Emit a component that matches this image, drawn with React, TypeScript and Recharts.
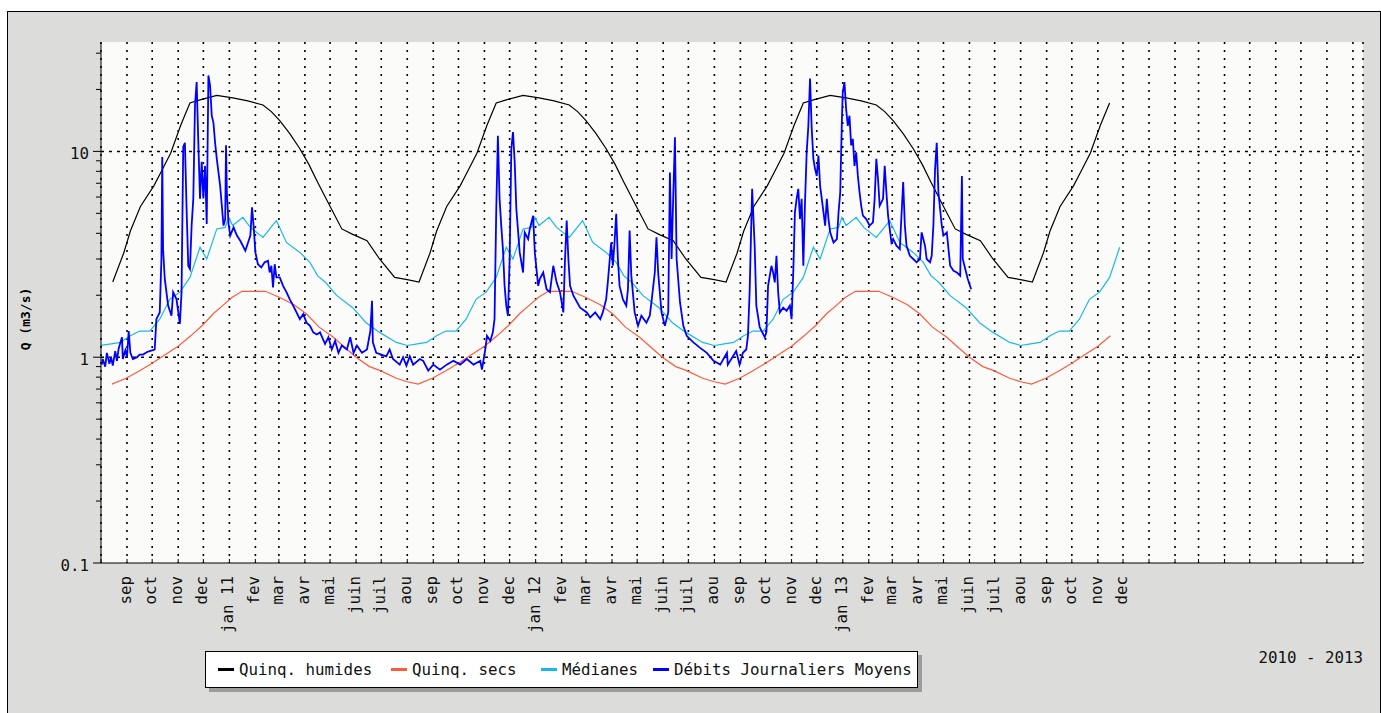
import React from 'react';
import { LineChart, Line, XAxis, YAxis, CartesianGrid, ReferenceLine } from 'recharts';

const FONT = '"DejaVu Sans Mono", monospace';

// x = days since 1 Aug 2010
const MONTH_TICK_DAYS = [0, 31, 61, 92, 122, 153, 184, 212, 243, 273, 304, 334, 365, 396, 426, 457, 487, 518, 549, 578, 609, 639, 670, 700, 731, 762, 792, 823, 853, 884, 915, 943, 974, 1004, 1035, 1065, 1096, 1127, 1157, 1188, 1218, 1249, 1280, 1308, 1339, 1369, 1400, 1430, 1461, 1492];
const MONTH_TICK_LABELS = ['', 'sep', 'oct', 'nov', 'dec', 'jan 11', 'fev', 'mar', 'avr', 'mai', 'juin', 'juil', 'aou', 'sep', 'oct', 'nov', 'dec', 'jan 12', 'fev', 'mar', 'avr', 'mai', 'juin', 'juil', 'aou', 'sep', 'oct', 'nov', 'dec', 'jan 13', 'fev', 'mar', 'avr', 'mai', 'juin', 'juil', 'aou', 'sep', 'oct', 'nov', 'dec', '', '', '', '', '', '', '', '', ''];

const Y_TICKS = [0.1, 0.2, 0.3, 0.4, 0.5, 0.6, 0.7, 0.8, 0.9, 1, 2, 3, 4, 5, 6, 7, 8, 9, 10, 20, 30];
const Y_MAJOR_LABELS: Record<string, string> = { '0.1': '0.1', '1': '1', '10': '10' };

// seasonal statistics, profile per hydrological season (day since 1 Aug)
const SEASON_OFFSETS = [0, 365, 731, 1096];

const HUMIDES_DAYS = [0, 14, 27, 35, 47, 63, 72, 83, 95, 106, 118, 138, 157, 175, 193, 203, 213, 225, 237, 248, 258, 272, 287, 300, 317, 332, 350];
const HUMIDES_VALUES = [2.38, 2.32, 3.2, 4.1, 5.4, 6.8, 8.0, 9.8, 13.4, 17.2, 17.8, 18.7, 18.2, 17.6, 16.8, 15.6, 14.1, 12.2, 10.3, 8.6, 7.1, 5.5, 4.2, 3.95, 3.68, 3.0, 2.44];

const SECS_DAYS = [0, 13, 30, 46, 60, 75, 92, 107, 121, 134, 145, 156, 168, 196, 213, 230, 245, 260, 277, 290, 304, 320, 333, 352];
const SECS_VALUES = [0.76, 0.74, 0.79, 0.86, 0.93, 1.02, 1.13, 1.27, 1.43, 1.63, 1.78, 1.95, 2.09, 2.09, 1.95, 1.8, 1.62, 1.4, 1.25, 1.12, 1.0, 0.9, 0.86, 0.79];

const MEDIANES_DAYS = [0, 12, 23, 35, 46, 58, 70, 82, 94, 106, 118, 126, 138, 148, 152, 157, 169, 178, 193, 209, 221, 237, 249, 258, 268, 281, 300, 316, 332, 352];
const MEDIANES_VALUES = [1.14, 1.16, 1.18, 1.27, 1.34, 1.34, 1.53, 1.91, 2.07, 2.44, 3.42, 3.0, 4.2, 4.27, 4.78, 4.36, 4.78, 4.27, 3.82, 4.61, 3.61, 3.23, 2.89, 2.49, 2.3, 1.99, 1.74, 1.47, 1.32, 1.18];

// daily mean flows (sampled)
const DEBITS_DAYS = [1, 2, 5, 7, 10, 12, 14, 17, 19, 21, 25, 26, 29, 31, 33, 35, 38, 43, 46, 50, 55, 58, 64, 66, 70, 72, 73, 74, 76, 80, 84, 86, 90, 94, 96, 98, 100, 102, 104, 106, 108, 110, 112, 114, 116, 118, 120, 122, 124, 126, 128, 130, 132, 134, 136, 138, 142, 144, 146, 148, 149, 150, 152, 154, 158, 162, 166, 172, 174, 178, 180, 182, 184, 187, 191, 195, 199, 201, 203, 205, 207, 209, 213, 217, 221, 225, 229, 233, 237, 241, 245, 249, 253, 257, 261, 267, 271, 275, 279, 283, 287, 293, 297, 301, 305, 311, 317, 321, 323, 324, 328, 334, 340, 344, 348, 356, 360, 364, 368, 372, 380, 384, 390, 396, 404, 412, 420, 428, 436, 444, 452, 454, 458, 460, 464, 467, 469, 471, 473, 475, 477, 479, 481, 483, 485, 487, 489, 491, 493, 495, 499, 503, 505, 509, 511, 515, 517, 521, 523, 527, 531, 535, 539, 543, 547, 551, 553, 555, 557, 559, 563, 571, 579, 583, 589, 595, 598, 602, 604, 608, 610, 612, 614, 616, 618, 622, 626, 628, 630, 632, 636, 640, 644, 650, 654, 656, 660, 662, 664, 668, 672, 676, 678, 680, 682, 684, 686, 690, 694, 698, 706, 714, 722, 730, 738, 746, 747, 757, 761, 765, 769, 771, 773, 776, 779, 781, 785, 791, 793, 795, 799, 801, 803, 805, 807, 809, 813, 817, 821, 823, 825, 827, 829, 831, 833, 835, 837, 839, 841, 843, 845, 847, 849, 851, 853, 855, 857, 859, 863, 865, 867, 869, 873, 877, 879, 881, 883, 884, 886, 888, 890, 892, 894, 896, 898, 900, 902, 904, 906, 908, 912, 916, 920, 922, 924, 926, 928, 932, 934, 936, 938, 940, 942, 944, 948, 952, 956, 958, 960, 964, 968, 972, 976, 978, 980, 982, 984, 988, 990, 992, 994, 996, 998, 1000, 1002, 1004, 1008, 1012, 1016, 1020, 1024, 1026, 1027, 1029, 1033, 1037];
const DEBITS_VALUES = [0.92, 0.98, 0.9, 1.05, 0.93, 1.0, 0.91, 1.07, 0.96, 1.1, 1.25, 0.98, 1.08, 1.0, 1.34, 1.05, 0.98, 1.0, 1.03, 1.03, 1.06, 1.07, 1.09, 1.53, 1.65, 3.0, 9.4, 3.35, 2.4, 1.78, 1.59, 2.07, 1.91, 1.45, 2.07, 10.5, 11.0, 5.25, 2.78, 2.68, 4.36, 5.88, 16.7, 21.7, 11.0, 5.88, 8.9, 5.9, 8.5, 4.44, 23.4, 20.9, 14.9, 13.8, 11.0, 9.2, 6.8, 5.44, 4.36, 4.69, 10.7, 6.33, 4.44, 3.9, 4.27, 3.9, 3.68, 3.29, 3.48, 3.9, 5.35, 4.27, 3.23, 2.83, 2.73, 2.89, 2.94, 2.58, 2.78, 2.18, 2.83, 2.44, 2.44, 2.22, 2.07, 1.91, 1.78, 1.65, 1.53, 1.62, 1.47, 1.42, 1.32, 1.29, 1.32, 1.16, 1.25, 1.09, 1.2, 1.05, 1.14, 1.09, 1.25, 1.05, 1.14, 1.05, 1.09, 1.34, 1.88, 1.18, 1.05, 1.03, 1.01, 1.09, 0.98, 0.92, 1.0, 0.91, 1.01, 0.92, 0.98, 0.96, 0.86, 0.92, 0.87, 0.92, 0.96, 0.92, 0.98, 0.92, 0.96, 0.87, 1.09, 1.27, 1.2, 1.32, 1.53, 5.06, 11.9, 5.88, 4.36, 3.35, 2.22, 1.78, 1.59, 3.0, 10.3, 12.4, 8.9, 5.25, 3.23, 2.58, 4.04, 3.75, 4.2, 4.87, 3.23, 2.22, 2.4, 2.58, 2.14, 2.07, 2.78, 2.31, 2.07, 1.65, 3.0, 4.61, 3.0, 2.22, 1.99, 1.74, 1.65, 1.56, 1.65, 1.53, 1.65, 1.91, 2.31, 3.61, 2.78, 3.61, 4.97, 3.0, 2.22, 1.91, 1.78, 2.14, 4.12, 2.49, 1.65, 1.42, 1.59, 1.47, 1.59, 1.85, 2.58, 3.82, 2.58, 1.65, 1.42, 1.65, 7.9, 3.0, 6.1, 11.7, 3.0, 1.85, 1.42, 1.27, 1.18, 1.11, 1.05, 0.96, 0.92, 1.05, 0.92, 1.07, 0.92, 1.05, 1.09, 1.27, 2.07, 6.58, 3.48, 1.78, 1.4, 1.25, 1.32, 2.22, 2.78, 2.58, 2.31, 3.11, 2.07, 1.65, 1.74, 1.68, 1.78, 1.53, 2.58, 5.06, 5.88, 6.58, 4.69, 5.88, 2.78, 5.65, 9.9, 13.3, 22.6, 12.9, 9.2, 8.2, 7.6, 9.55, 6.8, 5.88, 4.36, 5.88, 4.69, 4.04, 3.61, 3.75, 5.06, 6.33, 14.4, 19.4, 21.7, 16.1, 13.3, 14.9, 10.7, 11.5, 8.5, 9.9, 7.6, 6.33, 5.44, 4.87, 4.69, 4.36, 4.52, 5.88, 9.2, 7.35, 5.44, 5.88, 8.5, 6.33, 4.87, 4.2, 3.61, 3.75, 3.48, 3.35, 7.1, 4.36, 3.48, 3.11, 3.0, 2.89, 3.0, 4.04, 3.75, 3.48, 3.0, 2.89, 3.11, 4.36, 8.2, 11.0, 6.33, 5.25, 4.36, 3.9, 4.04, 2.78, 2.63, 2.58, 2.49, 7.6, 3.0, 2.78, 2.4, 2.14];

const SERIES_NAMES = ['Quinq. humides', 'Quinq. secs', 'Médianes', 'Débits Journaliers Moyens'];
const SERIES_COLORS = ['#000000', '#ff5a3c', '#1ab8e6', '#0000ff'];
const PERIOD_LABEL = '2010 - 2013';
const Y_LABEL = 'Q (m3/s)';

type Pt = { d: number; v: number };

function buildSeasonal(days: number[], values: number[], start: number, end: number): Pt[] {
  const out: Pt[] = [];
  SEASON_OFFSETS.forEach((off) => {
    days.forEach((d, i) => {
      const t = d + off;
      if (t >= start && t <= end) out.push({ d: t, v: values[i] });
    });
  });
  return out;
}

const humidesData = buildSeasonal(HUMIDES_DAYS, HUMIDES_VALUES, 13, 1205);
const secsData = buildSeasonal(SECS_DAYS, SECS_VALUES, 12, 1205);
const medianesData = buildSeasonal(MEDIANES_DAYS, MEDIANES_VALUES, 0, 1220);
const debitsData: Pt[] = DEBITS_DAYS.map((d, i) => ({ d, v: DEBITS_VALUES[i] }));

const XTick = (props: any) => {
  const { x, y, payload } = props;
  const idx = MONTH_TICK_DAYS.indexOf(payload.value);
  const label = idx >= 0 ? MONTH_TICK_LABELS[idx] : '';
  const ty = y + 13;
  const tx = x + 4;
  return (
    <g>
      <line x1={x} x2={x} y1={y - 4} y2={y} stroke="#000" strokeWidth={1} />
      {label ? (
        <text
          x={tx}
          y={ty}
          transform={`rotate(-90 ${tx} ${ty})`}
          textAnchor="end"
          fontFamily={FONT}
          fontSize={15.8}
          fill="#111"
        >
          {label}
        </text>
      ) : null}
    </g>
  );
};

const YTick = (props: any) => {
  const { x, y, payload } = props;
  const label = Y_MAJOR_LABELS[String(payload.value)];
  const len = label ? 8 : 5;
  return (
    <g>
      <line x1={x - len} x2={x} y1={y} y2={y} stroke="#000" strokeWidth={1} />
      {label ? (
        <text x={x - 12} y={y + 7.5} textAnchor="end" fontFamily={FONT} fontSize={15.8} fill="#111">
          {label}
        </text>
      ) : null}
    </g>
  );
};

const legendOffsets = [12, 185, 335, 447];

export default function App() {
  return (
    <div style={{ position: 'absolute', left: 0, top: 0, width: 1381, height: 713, background: '#ffffff', overflow: 'hidden' }}>
      <div
        style={{
          position: 'absolute',
          left: 7,
          top: 11,
          width: 1374,
          height: 712,
          background: '#dcdddb',
          border: '1px solid #000',
          boxSizing: 'border-box',
        }}
      />
      <div style={{ position: 'absolute', left: 0, top: 0 }}>
        <LineChart width={1381} height={713} margin={{ top: 42, right: 18, bottom: 50, left: 0 }}>
          <CartesianGrid horizontal={false} vertical stroke="#000" strokeWidth={1.6} strokeDasharray="2 6" fill="#fbfcfa" fillOpacity={1} />
          <XAxis
            type="number"
            dataKey="d"
            domain={[0, 1504]}
            ticks={MONTH_TICK_DAYS}
            interval={0}
            tick={<XTick />}
            tickLine={false}
            tickSize={0}
            tickMargin={0}
            height={100}
            axisLine={{ stroke: '#000' }}
            allowDataOverflow
          />
          <YAxis
            type="number"
            dataKey="v"
            scale="log"
            domain={[0.1, 34]}
            ticks={Y_TICKS}
            interval={0}
            tick={<YTick />}
            tickLine={false}
            tickSize={0}
            tickMargin={0}
            width={101}
            axisLine={{ stroke: '#000' }}
            allowDataOverflow
          />
          <ReferenceLine y={10} stroke="#000" strokeWidth={1.5} strokeDasharray="3 5" />
          <ReferenceLine y={1} stroke="#000" strokeWidth={1.5} strokeDasharray="3 5" />
          <Line data={humidesData} dataKey="v" type="linear" stroke={SERIES_COLORS[0]} strokeWidth={1.2} dot={false} isAnimationActive={false} name={SERIES_NAMES[0]} />
          <Line data={secsData} dataKey="v" type="linear" stroke={SERIES_COLORS[1]} strokeWidth={1.2} dot={false} isAnimationActive={false} name={SERIES_NAMES[1]} />
          <Line data={medianesData} dataKey="v" type="linear" stroke={SERIES_COLORS[2]} strokeWidth={1.2} dot={false} isAnimationActive={false} name={SERIES_NAMES[2]} />
          <Line data={debitsData} dataKey="v" type="linear" stroke={SERIES_COLORS[3]} strokeWidth={1.8} dot={false} isAnimationActive={false} name={SERIES_NAMES[3]} />
        </LineChart>
      </div>
      <div
        style={{
          position: 'absolute',
          left: 25,
          top: 319,
          transform: 'translate(-50%, -50%) rotate(-90deg)',
          fontFamily: FONT,
          fontWeight: 'bold',
          fontSize: 13,
          color: '#000',
          whiteSpace: 'nowrap',
          transformOrigin: 'center',
        }}
      >
        <span style={{ position: 'relative', left: 0 }}>{Y_LABEL}</span>
      </div>
      <div
        style={{
          position: 'absolute',
          left: 205,
          top: 651,
          width: 713,
          height: 37,
          background: '#ffffff',
          border: '1px solid #000',
          boxShadow: '4px 4px 0 #9c9c9c',
          boxSizing: 'border-box',
          fontFamily: FONT,
          fontSize: 15.8,
          color: '#111',
        }}
      >
        {SERIES_NAMES.map((n, i) => (
          <div key={n} style={{ position: 'absolute', left: legendOffsets[i], top: 0, height: 35, display: 'flex', alignItems: 'center', whiteSpace: 'nowrap' }}>
            <span style={{ display: 'inline-block', width: 16, height: 3, background: SERIES_COLORS[i], marginRight: 5 }} />
            <span>{n}</span>
          </div>
        ))}
      </div>
      <div
        style={{
          position: 'absolute',
          right: 1381 - 1363,
          top: 648,
          fontFamily: FONT,
          fontSize: 15.8,
          color: '#111',
          whiteSpace: 'nowrap',
        }}
      >
        {PERIOD_LABEL}
      </div>
    </div>
  );
}
